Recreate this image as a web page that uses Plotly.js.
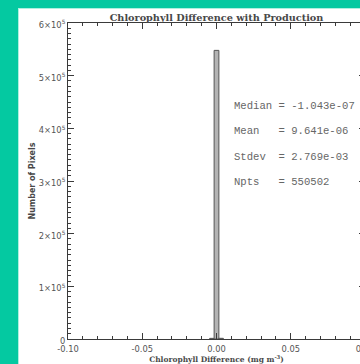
<!DOCTYPE html>
<html>
<head>
<meta charset="utf-8">
<script src="https://cdn.plot.ly/plotly-3.0.1.min.js"></script>
<style>
  html, body { margin: 0; padding: 0; width: 360px; height: 364px; overflow: hidden; background: #04c9a1; }
  #frame { position: absolute; left: 18px; top: 8px; width: 390px; height: 360px; background: #ffffff; border-left: 1px solid #aef0e0; border-top: 1px solid #aef0e0; }
  #chart { position: absolute; left: 0; top: 0; }
</style>
</head>
<body>
<div id="frame"><div id="chart"></div></div>
<script>
// Histogram bins (chlorophyll difference, mg m^-3) and pixel counts
const binCenters = [-0.003, 0.0, 0.003];
const pixelCounts = [1200, 548000, 1300];

const xTickVals = [-0.10, -0.05, 0.00, 0.05, 0.10];
const xTickText = ["-0.10", "-0.05", "0.00", "0.05", "0.10"];
const yTickVals = [0, 100000, 200000, 300000, 400000, 500000, 600000];
const yTickText = ["0", "1\u00d710<sup>5</sup>", "2\u00d710<sup>5</sup>", "3\u00d710<sup>5</sup>",
                   "4\u00d710<sup>5</sup>", "5\u00d710<sup>5</sup>", "6\u00d710<sup>5</sup>"];

const statLabels = ["Median", "Mean", "Stdev", "Npts"];
const statValues = ["-1.043e-07", "9.641e-06", "2.769e-03", "550502"];

const axisColor = "#3a3a3a";
const textColor = "#555555";

const trace = {
  type: "bar",
  x: binCenters,
  y: pixelCounts,
  width: 0.0032,
  marker: { color: "#b4b4b4", line: { color: "#555555", width: 1 } },
  hoverinfo: "skip"
};

const annotations = statLabels.map((lab, i) => {
  const padded = (lab + "       ").slice(0, 7).replace(/ /g, "\u00a0");
  return {
    xref: "x", yref: "paper",
    x: 0.0107, y: 0.738 - i * 0.0805,
    xanchor: "left", yanchor: "middle",
    text: padded + "=\u00a0" + statValues[i],
    showarrow: false,
    font: { family: "Liberation Mono, monospace", size: 10.6, color: "#666666" }
  };
});

const layout = {
  width: 390, height: 356,
  margin: { l: 49, r: 44, t: 14, b: 26 },
  paper_bgcolor: "#ffffff",
  plot_bgcolor: "#ffffff",
  showlegend: false,
  title: {
    text: "<b>Chlorophyll Difference with Production</b>",
    font: { family: "DejaVu Serif, serif", size: 9.7, color: "#484848" },
    xref: "paper", x: 0.5, xanchor: "center",
    yref: "container", y: 0.985, yanchor: "top"
  },
  xaxis: {
    range: [-0.10, 0.10],
    tickvals: xTickVals, ticktext: xTickText,
    ticks: "inside", ticklen: 6, tickwidth: 1, tickcolor: axisColor,
    minor: { dtick: 0.01, ticks: "inside", ticklen: 3, tickcolor: axisColor, showgrid: false },
    showline: true, linecolor: axisColor, linewidth: 1, mirror: "ticks",
    showgrid: false, zeroline: false,
    ticklabelstandoff: 2,
    tickfont: { family: "DejaVu Sans, sans-serif", size: 8.3, color: textColor },
    title: {
      text: "<b>Chlorophyll Difference (mg m<sup>-3</sup>)</b>",
      font: { family: "DejaVu Serif, serif", size: 7.5, color: "#484848" },
      standoff: 0
    }
  },
  yaxis: {
    range: [0, 600000],
    tickvals: yTickVals, ticktext: yTickText,
    ticks: "inside", ticklen: 6, tickwidth: 1, tickcolor: axisColor,
    minor: { dtick: 10000, ticks: "inside", ticklen: 3, tickcolor: axisColor, showgrid: false },
    showline: true, linecolor: axisColor, linewidth: 1, mirror: "ticks",
    showgrid: false, zeroline: false,
    ticklabelshift: 2,
    tickfont: { family: "DejaVu Sans, sans-serif", size: 8.3, color: textColor },
    title: {
      text: "<b>Number of Pixels</b>",
      font: { family: "DejaVu Sans, sans-serif", size: 8, color: "#484848" },
      standoff: 2
    }
  },
  annotations: annotations
};

Plotly.newPlot("chart", [trace], layout, { staticPlot: true, displayModeBar: false });
</script>
</body>
</html>
